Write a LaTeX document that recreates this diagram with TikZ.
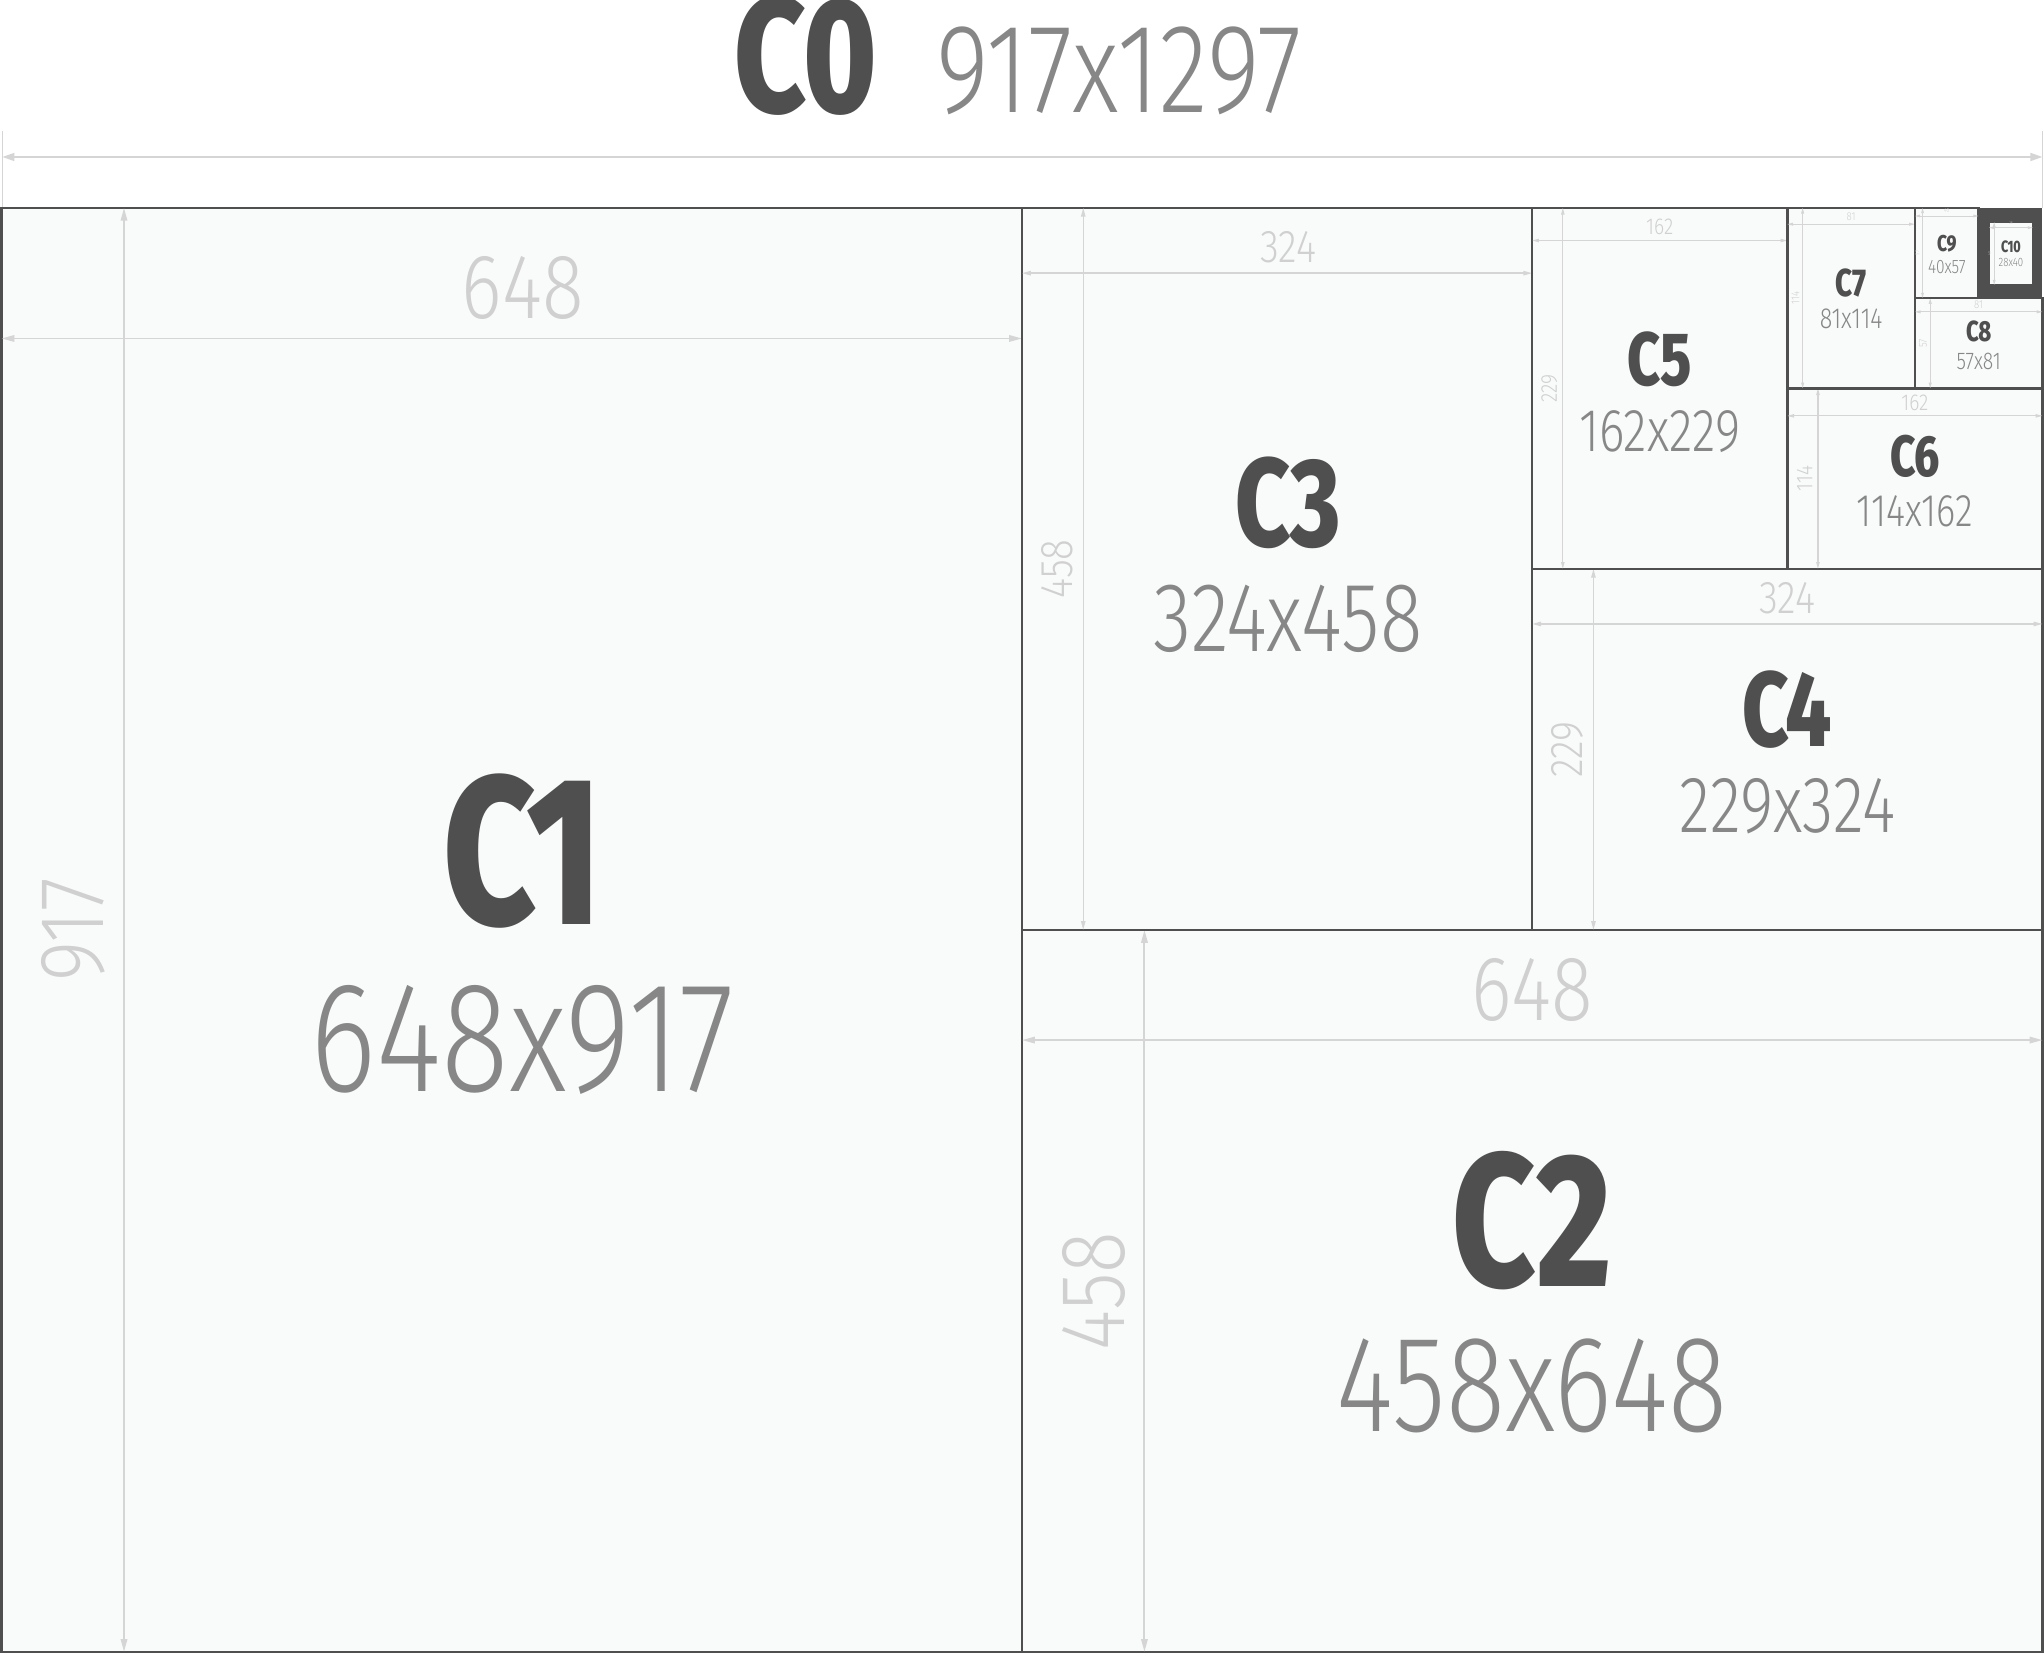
\documentclass[tikz,border=0pt]{standalone}
\usepackage{fontspec}
\usepackage{xcolor}
\usepackage{tikz}
\usetikzlibrary{arrows.meta, positioning}
\newfontfamily\namefont{Fira Sans ExtraBold}[FakeStretch=0.76]
\newfontfamily\sizefont{Fira Sans Light}[FakeStretch=0.80]
\newfontfamily\dimfont{Fira Sans Light}[FakeStretch=0.84]
\definecolor{ink}{HTML}{4F4F4F}
\definecolor{greytext}{HTML}{878787}
\definecolor{dimline}{HTML}{D5D5D5}
\definecolor{dimtext}{HTML}{D0D0D0}
\definecolor{paper}{HTML}{F9FAFA}
\tikzset{
  sheet/.style    = {draw=ink, line width=0.45pt, fill=paper},
  nametxt/.style  = {text=ink, inner sep=0pt},
  sizetxt/.style  = {text=greytext, inner sep=0pt},
  dimtxt/.style   = {text=dimtext, inner sep=0pt},
  dimarrow/.style = {draw=dimline, <->},
}

\begin{document}
\begin{tikzpicture}[x=0.1mm, y=0.1mm]
  \path[use as bounding box, fill=white] (-1,-1) rectangle (1297,1049);

  % C0 title and overall width
  \node[nametxt, font={\namefont\fontsize{29.6pt}{29.6pt}\selectfont}, anchor=south east] (C0) at (557,975) {C0};
  \node[sizetxt, font={\sizefont\fontsize{22.9pt}{22.9pt}\selectfont}, base right=3.58mm of C0] (C0-size) {917x1297};
  \coordinate (c0l) at (0.5,949.3);
  \coordinate (c0r) at (1296,949.3);
  \draw[draw=dimline, line width=0.25pt] (0.5,917) -- (0.5,965.8);
  \draw[draw=dimline, line width=0.25pt] (1296,917) -- (1296,965.8);
  \draw[dimarrow, line width=0.32pt, >={Triangle[length=0.76mm, width=0.5mm]}] (c0l) -- (c0r);

  % corner behind C10
  \fill[ink] (1255.5,859.7) rectangle (1296,917);

  % sheets: name / corners / printed width, height / text heights / raise / shift
  \foreach \nm/\xa/\ya/\xb/\yb/\pw/\ph/\hn/\hs/\up/\dx in {
      C1/0/0/648/917/648/917/92.5/68.7/0/7,
      C2/648/0/1296/458.5/648/458/83/60/0/0,
      C3/648/458.5/972/917/324/458/55/43/12/7,
      C4/972/458.5/1296/687.75/324/229/46.5/35/0/0,
      C5/972/687.75/1134/917/162/229/33/26.5/0/0,
      C6/1134/687.75/1296/802.4/162/114/25.4/20/0/0,
      C7/1134/802.4/1215/917/81/114/17/12.7/0/0,
      C8/1215/802.4/1296/859.7/81/57/12.7/10.6/0/0,
      C9/1215/859.7/1255.5/917/40/57/10/8.5/0/0,
      C10/1262/868/1290/908/28/40/7.2/5.3/0/0}{
    \pgfmathsetmacro\shw{\xb-\xa}
    \pgfmathsetmacro\shh{\yb-\ya}
    \pgfmathsetmacro\cx{(\xa+\xb)/2}
    \pgfmathsetmacro\cy{(\ya+\yb)/2}
    \pgfmathsetmacro\wy{\yb-(\shh>\shw ? 0.128 : 0.108)*\shw}
    \pgfmathsetmacro\hx{\xa+0.12*\shw}
    \pgfmathsetmacro\dimsz{0.0256*\shw}
    \pgfmathsetmacro\dimgap{0.0174*\shw}
    \pgfmathsetmacro\arl{(3+0.008*\shw)*0.1}
    \pgfmathsetmacro\arw{(1.5+0.004*\shw)*0.1}
    \pgfmathsetmacro\dlw{0.15+0.0003*\shw}
    \pgfmathsetmacro\namesz{0.4129*\hn}
    \pgfmathsetmacro\sizesz{0.4129*\hs}
    \pgfmathsetmacro\sizegap{0.05*\hs}
    \pgfmathparse{\shh>\shw}
    \ifnum\pgfmathresult=1 \def\sztext{\pw x\ph}\else\def\sztext{\ph x\pw}\fi
    \draw[sheet] (\xa,\ya) rectangle (\xb,\yb);
    \draw[dimarrow, line width=\dlw pt, >={Triangle[length=\arl mm, width=\arw mm]}] (\xa,\wy) -- (\xb,\wy);
    \draw[dimarrow, line width=\dlw pt, >={Triangle[length=\arl mm, width=\arw mm]}] (\hx,\ya) -- (\hx,\yb);
    \node[dimtxt, font={\dimfont\fontsize{\dimsz pt}{\dimsz pt}\selectfont}, anchor=south] (\nm-w) at (\cx+\dx,\wy+\dimgap) {\pw};
    \node[dimtxt, font={\dimfont\fontsize{\dimsz pt}{\dimsz pt}\selectfont}, rotate=90, anchor=south] (\nm-h) at (\hx-\dimgap,\cy) {\ph};
    \node[nametxt, font={\namefont\fontsize{\namesz pt}{\namesz pt}\selectfont}, anchor=south] (\nm) at (\cx+\dx,\cy+\up) {\nm};
    \node[sizetxt, font={\sizefont\fontsize{\sizesz pt}{\sizesz pt}\selectfont}, below=\sizegap mm of \nm] (\nm-size) {\sztext};
  }
\end{tikzpicture}
\end{document}
